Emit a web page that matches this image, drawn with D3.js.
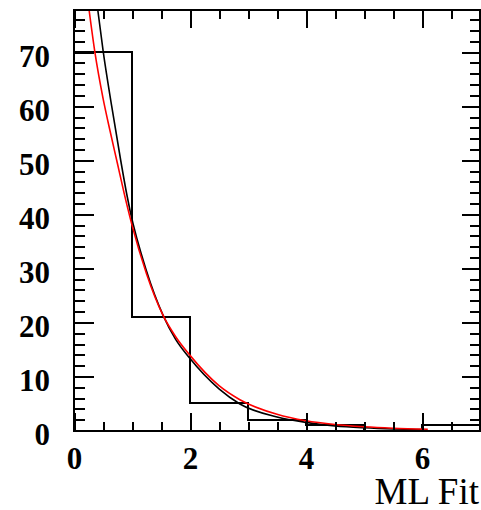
<!DOCTYPE html>
<html>
<head>
<meta charset="utf-8">
<script src="https://cdn.jsdelivr.net/npm/d3@7"></script>
<style>
  body { margin: 0; background: #fff; }
  .tick text { font-family: "Liberation Serif", "Times New Roman", serif; }
</style>
</head>
<body>
<div id="plot"></div>
<script>
// histogram: bin edges and counts
var binEdges = [0, 1, 2, 3, 4, 5, 6, 7];
var binCounts = [70, 21, 5, 2, 1, 0, 1];

// black curve (x, y)
var blackX = [0.41, 0.505, 0.65, 0.805, 0.908, 0.966, 1.25, 1.54, 1.75, 2.0, 2.5, 2.86, 3.5, 4.0, 4.5, 5.0, 5.5, 6.0];
var blackY = [77.8, 70, 60, 50, 43.8, 40.7, 29.5, 21.2, 16.9, 13.3, 7.7, 4.9, 2.5, 1.5, 0.85, 0.5, 0.28, 0.16];

// red curve (ML fit)
var redX = [0.26, 0.36, 0.5, 0.62, 0.747, 0.862, 1.0, 1.25, 1.54, 1.75, 2.0, 2.5, 2.86, 3.5, 4.0, 4.5, 5.0, 5.5, 6.1];
var redY = [77.8, 70, 61.5, 55.5, 49.5, 44, 38, 29, 21.2, 17.4, 13.9, 8.3, 5.7, 3.0, 1.8, 1.1, 0.68, 0.41, 0.22];

var xMajor = [0, 2, 4, 6];
var xMinor = [0.5, 1, 1.5, 2.5, 3, 3.5, 4.5, 5, 5.5, 6.5];
var yMajor = [0, 10, 20, 30, 40, 50, 60, 70];
var yMinor = [2, 4, 6, 8, 12, 14, 16, 18, 22, 24, 26, 28, 32, 34, 36, 38, 42, 44, 46, 48,
              52, 54, 56, 58, 62, 64, 66, 68, 72, 74, 76];
var xTitle = "ML Fit";

var W = 481, H = 510;
var frame = { left: 74, right: 480, top: 10, bottom: 430.5 };

var svg = d3.select("#plot").append("svg")
    .attr("width", W).attr("height", H)
    .style("display", "block");

var x = d3.scaleLinear().domain([0, 7]).range([frame.left, frame.right]);
var y = d3.scaleLinear().domain([0, 77.8]).range([frame.bottom, frame.top]);

svg.append("defs").append("clipPath").attr("id", "frameClip")
   .append("rect")
   .attr("x", frame.left).attr("y", frame.top)
   .attr("width", frame.right - frame.left).attr("height", frame.bottom - frame.top);

// histogram outline as a step path
var histPts = [[binEdges[0], 0]];
binCounts.forEach(function(c, i) {
  histPts.push([binEdges[i], c]);
  histPts.push([binEdges[i + 1], c]);
});
histPts.push([binEdges[binEdges.length - 1], 0]);

svg.append("path")
   .datum(histPts)
   .attr("clip-path", "url(#frameClip)")
   .attr("fill", "none").attr("stroke", "#000").attr("stroke-width", 2)
   .attr("shape-rendering", "crispEdges")
   .attr("d", d3.line().x(function(d) { return x(d[0]); }).y(function(d) { return y(d[1]); }));

function drawCurve(xs, ys, colour) {
  var pts = xs.map(function(v, i) { return [v, ys[i]]; });
  svg.append("path")
     .datum(pts)
     .attr("clip-path", "url(#frameClip)")
     .attr("fill", "none").attr("stroke", colour).attr("stroke-width", 1.6)
     .attr("d", d3.line().curve(d3.curveMonotoneX)
                 .x(function(d) { return x(d[0]); })
                 .y(function(d) { return y(d[1]); }));
}
drawCurve(blackX, blackY, "#000");
drawCurve(redX, redY, "#f00");

// axes -- ROOT style, ticks pointing into the frame
function styleAxis(g) {
  g.select(".domain").remove();
  g.selectAll(".tick line").attr("stroke", "#000").attr("stroke-width", 2)
   .attr("shape-rendering", "crispEdges");
}

svg.append("g").attr("transform", "translate(0," + frame.bottom + ")")
   .call(d3.axisBottom(x).tickValues(xMajor).tickSize(-18).tickPadding(16).tickFormat(d3.format("d")))
   .call(styleAxis)
   .selectAll("text").attr("font-size", 31).attr("font-weight", "bold").attr("fill", "#000");
svg.append("g").attr("transform", "translate(0," + frame.bottom + ")")
   .call(d3.axisBottom(x).tickValues(xMinor).tickSize(-9).tickFormat(""))
   .call(styleAxis);

svg.append("g").attr("transform", "translate(0," + frame.top + ")")
   .call(d3.axisTop(x).tickValues(xMajor).tickSize(-18).tickFormat(""))
   .call(styleAxis);
svg.append("g").attr("transform", "translate(0," + frame.top + ")")
   .call(d3.axisTop(x).tickValues(xMinor).tickSize(-9).tickFormat(""))
   .call(styleAxis);

svg.append("g").attr("transform", "translate(" + frame.left + ",0)")
   .call(d3.axisLeft(y).tickValues(yMajor).tickSize(-20).tickPadding(24).tickFormat(d3.format("d")))
   .call(styleAxis)
   .selectAll("text").attr("font-size", 31).attr("font-weight", "bold").attr("fill", "#000")
   .attr("dy", "0.45em");
svg.append("g").attr("transform", "translate(" + frame.left + ",0)")
   .call(d3.axisLeft(y).tickValues(yMinor).tickSize(-11).tickFormat(""))
   .call(styleAxis);

svg.append("g").attr("transform", "translate(" + frame.right + ",0)")
   .call(d3.axisRight(y).tickValues(yMajor).tickSize(-18).tickFormat(""))
   .call(styleAxis);
svg.append("g").attr("transform", "translate(" + frame.right + ",0)")
   .call(d3.axisRight(y).tickValues(yMinor).tickSize(-10).tickFormat(""))
   .call(styleAxis);

// frame
svg.append("rect")
   .attr("x", frame.left).attr("y", frame.top)
   .attr("width", frame.right - frame.left).attr("height", frame.bottom - frame.top)
   .attr("fill", "none").attr("stroke", "#000").attr("stroke-width", 2)
   .attr("shape-rendering", "crispEdges");

// x title
svg.append("text")
   .attr("x", 479).attr("y", 504)
   .attr("text-anchor", "end")
   .attr("font-family", "'Liberation Serif', 'Times New Roman', serif")
   .attr("font-size", 37)
   .text(xTitle);
</script>
</body>
</html>
